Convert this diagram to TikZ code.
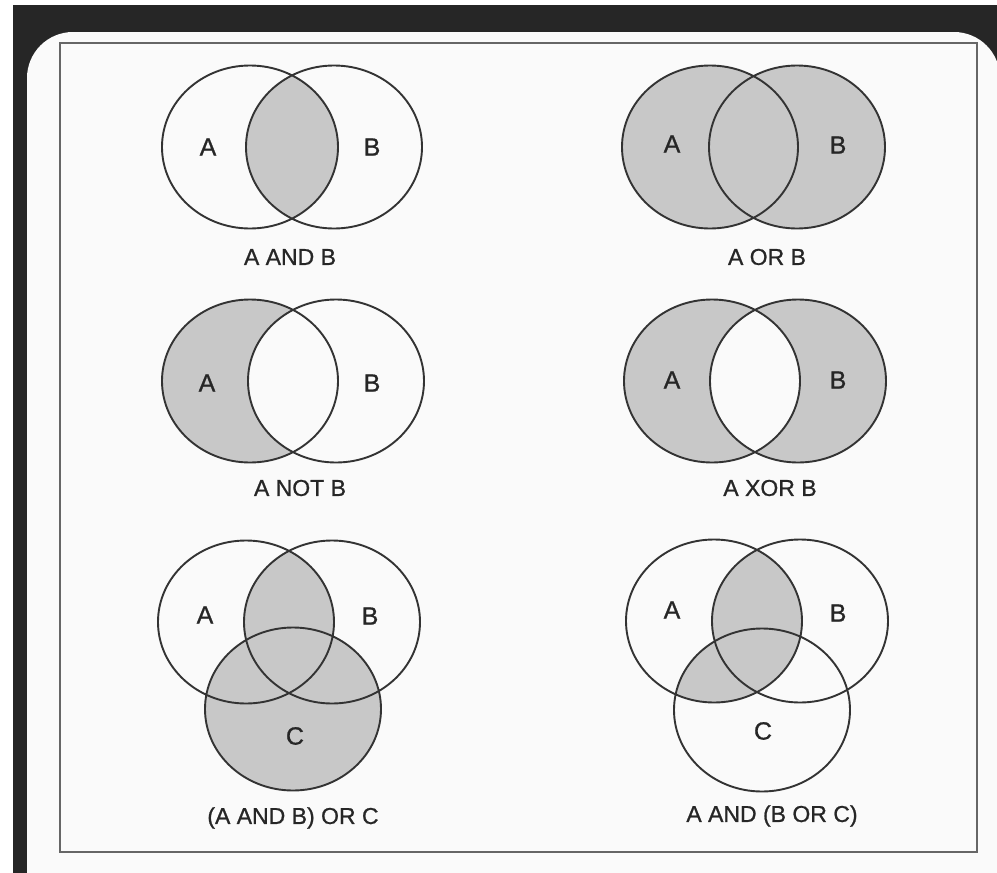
\documentclass[tikz,border=0pt]{standalone}
\usepackage{fontspec}
\setmainfont{Liberation Sans}
\newfontfamily\tagfont{Liberation Sans}[FakeBold=0.9]
\usepackage{xcolor}
\usepackage{tikz}
\definecolor{scanblack}{HTML}{262626}
\definecolor{inkgray}{HTML}{333333}
\definecolor{shadegray}{HTML}{C8C8C8}
\definecolor{paper}{HTML}{FAFAFA}

\begin{document}
\begin{tikzpicture}[x=1pt,y=-1pt,line width=1.9pt,
    lobe/.style={x radius=88,y radius=81.5},
    ring/.style={draw=inkgray},
    tint/.style={fill=shadegray},
    tag/.style={text=black!85,inner sep=0pt,font=\tagfont\fontsize{23}{26}\selectfont},
    letter/.style={tag,font=\tagfont\fontsize{25}{28}\selectfont}]
  \useasboundingbox (0,0) rectangle (997,873);
  \fill[white] (0,0) rectangle (997,873);
  \fill[scanblack] (13,5) rectangle (997,873);
  \fill[paper,rounded corners=46pt] (27,32) rectangle (1000,930);
  \draw[black!60,line width=1.6pt] (60,43) rectangle (977,852);

  \coordinate (andA) at (250,147);
  \coordinate (andB) at (334,147);
  \begin{scope}
    \clip (andA) ellipse[lobe];
    \fill[tint] (andB) ellipse[lobe];
  \end{scope}
  \draw[ring] (andA) ellipse[lobe] (andB) ellipse[lobe];
  \node[letter] (andAl) at (208,147) {A};
  \node[letter] (andBl) at (372,147) {B};
  \node[tag] (andcap) at (290,257) {A AND B};

  \coordinate (orA) at (710,147);
  \coordinate (orB) at (797,147);
  \fill[tint] (orA) ellipse[lobe] (orB) ellipse[lobe];
  \draw[ring] (orA) ellipse[lobe] (orB) ellipse[lobe];
  \node[letter] (orAl) at (672,144) {A};
  \node[letter] (orBl) at (838,145) {B};
  \node[tag] (orcap) at (767,257) {A OR B};

  \coordinate (notA) at (250,381);
  \coordinate (notB) at (336,381);
  \fill[tint] (notA) ellipse[lobe];
  \begin{scope}
    \clip (notA) ellipse[lobe];
    \fill[paper] (notB) ellipse[lobe];
  \end{scope}
  \draw[ring] (notA) ellipse[lobe] (notB) ellipse[lobe];
  \node[letter] (notAl) at (207,383) {A};
  \node[letter] (notBl) at (372,383) {B};
  \node[tag] (notcap) at (300,488) {A NOT B};

  \coordinate (xorA) at (712,381);
  \coordinate (xorB) at (798,381);
  \fill[tint,even odd rule] (xorA) ellipse[lobe] (xorB) ellipse[lobe];
  \draw[ring] (xorA) ellipse[lobe] (xorB) ellipse[lobe];
  \node[letter] (xorAl) at (672,380) {A};
  \node[letter] (xorBl) at (838,380) {B};
  \node[tag] (xorcap) at (770,488) {A XOR B};

  \coordinate (lfA) at (246,622);
  \coordinate (lfB) at (332,622);
  \coordinate (lfC) at (293,709);
  \fill[tint] (lfC) ellipse[lobe];
  \begin{scope}
    \clip (lfA) ellipse[lobe];
    \fill[tint] (lfB) ellipse[lobe];
  \end{scope}
  \draw[ring] (lfA) ellipse[lobe] (lfB) ellipse[lobe] (lfC) ellipse[lobe];
  \node[letter] (lfAl) at (205,615) {A};
  \node[letter] (lfBl) at (370,616) {B};
  \node[letter] (lfCl) at (295,736) {C};
  \node[tag] (lfcap) at (293,818) {(A AND B) OR C};

  \coordinate (rtA) at (714,621);
  \coordinate (rtB) at (800,621);
  \coordinate (rtC) at (762,710);
  \begin{scope}
    \clip (rtA) ellipse[lobe];
    \fill[tint] (rtB) ellipse[lobe] (rtC) ellipse[lobe];
  \end{scope}
  \draw[ring] (rtA) ellipse[lobe] (rtB) ellipse[lobe] (rtC) ellipse[lobe];
  \node[letter] (rtAl) at (672,610) {A};
  \node[letter] (rtBl) at (838,613) {B};
  \node[letter] (rtCl) at (763,731) {C};
  \node[tag] (rtcap) at (772,816) {A AND (B OR C)};
\end{tikzpicture}
\end{document}
